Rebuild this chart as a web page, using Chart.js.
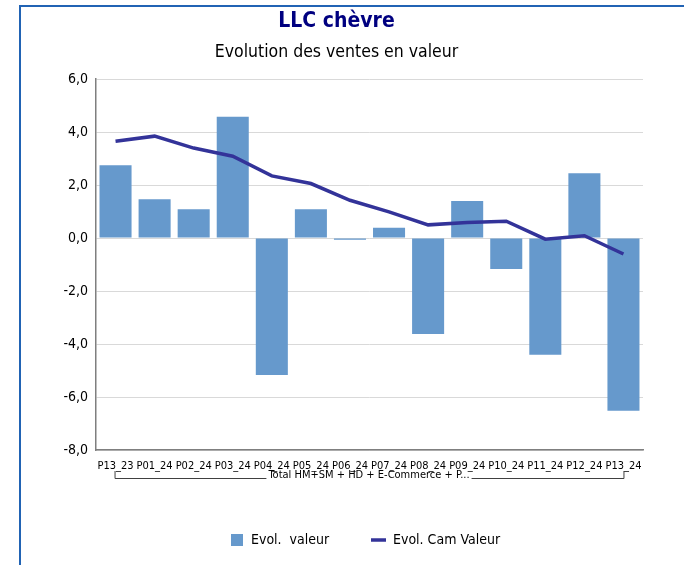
<!DOCTYPE html>
<html>
<head>
<meta charset="utf-8">
<script src="https://cdn.jsdelivr.net/npm/chart.js@4.4.1/dist/chart.umd.min.js"></script>
<style>
  html, body { margin: 0; padding: 0; background: #fff; }
  #wrap { position: relative; width: 684px; height: 565px; }
  canvas { display: block; }
</style>
</head>
<body>
<div id="wrap"><canvas id="c" width="684" height="565"></canvas></div>
<script>
const categories = ["P13_23","P01_24","P02_24","P03_24","P04_24","P05_24","P06_24","P07_24","P08_24","P09_24","P10_24","P11_24","P12_24","P13_24"];
const evolValeur = [2.75, 1.47, 1.09, 4.58, -5.17, 1.09, -0.06, 0.39, -3.62, 1.40, -1.17, -4.40, 2.45, -6.52];
const evolCamValeur = [3.66, 3.85, 3.40, 3.09, 2.35, 2.06, 1.43, 0.99, 0.50, 0.59, 0.64, -0.04, 0.09, -0.60];
const yTicks = [-8, -6, -4, -2, 0, 2, 4, 6];
const groupLabel = "Total HM+SM + HD + E-Commerce + P...";
const titleText = "LLC chèvre";
const subtitleText = "Evolution des ventes en valeur";
const legendLabels = ["Evol.  valeur", "Evol. Cam Valeur"];

const FONT = "Tahoma, 'DejaVu Sans Condensed', 'DejaVu Sans', sans-serif";

const framePlugin = {
  id: 'frame',
  beforeDraw(chart) {
    const ctx = chart.ctx;
    ctx.save();
    ctx.fillStyle = '#ffffff';
    ctx.fillRect(0, 0, chart.width, chart.height);
    ctx.strokeStyle = '#2163b4';
    ctx.lineWidth = 2;
    ctx.beginPath();
    ctx.moveTo(20, chart.height);
    ctx.lineTo(20, 6);
    ctx.lineTo(chart.width, 6);
    ctx.stroke();
    ctx.restore();
  }
};

const groupPlugin = {
  id: 'group',
  afterDraw(chart) {
    const ctx = chart.ctx;
    const xs = chart.scales.x;
    const x0 = xs.getPixelForValue(0) - 1;
    const x1 = xs.getPixelForValue(categories.length - 1);
    const yTop = 471, yLine = 478;
    ctx.save();
    ctx.font = "11px " + FONT;
    ctx.fillStyle = '#000';
    ctx.textAlign = 'center';
    ctx.textBaseline = 'middle';
    const cx = (x0 + x1) / 2;
    ctx.fillText(groupLabel, cx, 475);
    const tw = ctx.measureText(groupLabel).width;
    ctx.strokeStyle = '#404040';
    ctx.lineWidth = 1;
    ctx.beginPath();
    ctx.moveTo(x0 + 0.5, yTop);
    ctx.lineTo(x0 + 0.5, yLine + 0.5);
    ctx.lineTo(cx - tw / 2 - 2, yLine + 0.5);
    ctx.moveTo(cx + tw / 2 + 2, yLine + 0.5);
    ctx.lineTo(x1 + 0.5, yLine + 0.5);
    ctx.lineTo(x1 + 0.5, yTop);
    ctx.stroke();
    ctx.restore();
  }
};

const legendPlugin = {
  id: 'customLegend',
  afterDraw(chart) {
    const ctx = chart.ctx;
    const barDs = chart.data.datasets[1];
    const lineDs = chart.data.datasets[0];
    const cy = 540;
    ctx.save();
    ctx.font = "14px " + FONT;
    ctx.textAlign = 'left';
    ctx.textBaseline = 'middle';
    ctx.fillStyle = barDs.backgroundColor;
    ctx.fillRect(231, cy - 6, 12, 12);
    ctx.fillStyle = '#000';
    ctx.fillText(barDs.label, 251, cy);
    ctx.strokeStyle = lineDs.borderColor;
    ctx.lineWidth = 3.5;
    ctx.beginPath();
    ctx.moveTo(371, cy);
    ctx.lineTo(386, cy);
    ctx.stroke();
    ctx.fillText(lineDs.label, 393, cy);
    ctx.restore();
  }
};

new Chart(document.getElementById('c'), {
  data: {
    labels: categories,
    datasets: [
      {
        type: 'line',
        label: legendLabels[1],
        data: evolCamValeur,
        borderColor: '#333399',
        backgroundColor: '#333399',
        borderWidth: 3.5,
        pointRadius: 0,
        tension: 0,
        order: 0
      },
      {
        type: 'bar',
        label: legendLabels[0],
        data: evolValeur,
        backgroundColor: '#6699CC',
        borderWidth: 0,
        categoryPercentage: 1,
        barPercentage: 0.82,
        order: 1
      }
    ]
  },
  options: {
    responsive: false,
    animation: false,
    devicePixelRatio: 1,
    layout: { padding: { left: 30, right: 41, top: 0, bottom: 73 } },
    plugins: {
      legend: { display: false },
      tooltip: { enabled: false },
      title: {
        display: true,
        text: titleText,
        color: '#000080',
        font: { family: FONT, size: 21, weight: 'bold', lineHeight: 1.2 },
        padding: { top: 9, bottom: 3 }
      },
      subtitle: {
        display: true,
        text: subtitleText,
        color: '#000000',
        font: { family: FONT, size: 17.5, lineHeight: 1.2 },
        padding: { top: 5, bottom: 16 }
      }
    },
    scales: {
      x: {
        type: 'category',
        grid: { display: false, drawTicks: false },
        border: { display: true, color: '#7f7f7f', width: 1.5 },
        ticks: {
          color: '#000',
          font: { family: FONT, size: 11 },
          autoSkip: false,
          maxRotation: 0,
          minRotation: 0,
          padding: 10
        },
        afterFit(s) { s.height = 42; }
      },
      y: {
        min: -8,
        max: 6,
        afterBuildTicks(s) { s.ticks = yTicks.map(v => ({ value: v })); },
        grid: { color: '#d9d9d9', lineWidth: 1, drawTicks: false },
        border: { display: true, color: '#7f7f7f', width: 1.5 },
        ticks: {
          color: '#000',
          font: { family: FONT, size: 14 },
          padding: 8,
          callback: v => v.toFixed(1).replace('.', ',')
        },
        afterFit(s) { s.width = 66; }
      }
    }
  },
  plugins: [framePlugin, groupPlugin, legendPlugin]
});
</script>
</body>
</html>
